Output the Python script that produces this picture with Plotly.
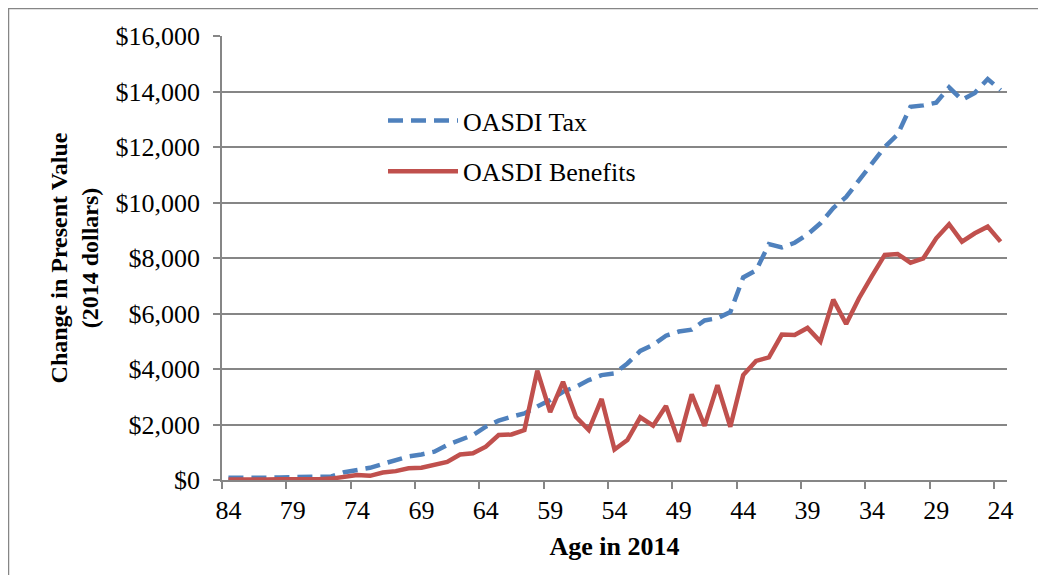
import plotly.graph_objects as go

# Age in 2014, oldest to youngest (x axis runs 84 -> 24)
ages = list(range(84, 23, -1))

# Change in present value (2014 dollars)
oasdi_tax = [
    80, 70, 70, 80, 90, 90, 100, 110, 130, 280,        # 84-75
    350, 440, 580, 730, 850, 920, 1020, 1260, 1440, 1620,  # 74-65
    1920, 2140, 2280, 2400, 2650, 2880, 3180, 3360, 3600, 3780,  # 64-55
    3840, 4200, 4650, 4870, 5200, 5350, 5420, 5750, 5830, 6050,  # 54-45
    7300, 7550, 8500, 8380, 8550, 8850, 9250, 9800, 10200, 10800,  # 44-35
    11400, 12000, 12450, 13450, 13500, 13600, 14150, 13700, 13950, 14450,  # 34-25
    14050,  # 24
]
oasdi_benefits = [
    20, 10, 15, 20, 25, 20, 20, 30, 50, 100,          # 84-75
    180, 150, 270, 320, 420, 440, 560, 650, 920, 960,  # 74-65
    1200, 1620, 1640, 1800, 3940, 2450, 3540, 2280, 1800, 2920,  # 64-55
    1100, 1440, 2260, 1960, 2670, 1380, 3090, 1950, 3420, 1920,  # 54-45
    3780, 4290, 4420, 5240, 5225, 5480, 4990, 6500, 5620, 6550,  # 44-35
    7350, 8110, 8145, 7830, 7990, 8710, 9215, 8590, 8890, 9130,  # 34-25
    8590,  # 24
]

tick_ages = list(range(84, 23, -5))
y_ticks = list(range(0, 16001, 2000))

FONT = "Liberation Serif, Times New Roman, serif"
GRID = "#868686"

fig = go.Figure()

fig.add_trace(go.Scatter(
    x=ages, y=oasdi_tax,
    mode="lines",
    name="OASDI Tax",
    legendgroup="tax",
    line=dict(color="#4F81BD", width=4.5, dash="15px,8px"),
))

fig.add_trace(go.Scatter(
    x=ages, y=oasdi_benefits,
    mode="lines",
    name="OASDI Benefits",
    legendgroup="ben",
    line=dict(color="#C0504D", width=4.5),
))

# the page puts the figure 8px in from the top-left corner
W, H = 1038, 567
L, R, T, B = 214, 39, 28, 95
pw, ph = W - L - R, H - T - B


def px_x(p):
    # page pixel -> paper x
    return (p - 8 - L) / pw


def px_y(p):
    # page pixel -> paper y
    return (H - B - (p - 8)) / ph


fig.update_layout(
    width=W, height=H,
    margin=dict(l=L, r=R, t=T, b=B),
    paper_bgcolor="white",
    plot_bgcolor="white",
    font=dict(family=FONT, size=26, color="black"),
    showlegend=True,
    legend=dict(
        x=px_x(383), y=px_y(97),
        xanchor="left", yanchor="top",
        bgcolor="rgba(0,0,0,0)",
        font=dict(family=FONT, size=26, color="black"),
        itemwidth=70,
        traceorder="grouped",
        tracegroupgap=14,
    ),
    xaxis=dict(
        range=[84.5, 23.5],
        tickmode="array",
        tickvals=tick_ages,
        ticktext=[str(a) for a in tick_ages],
        ticks="",
        ticklabelstandoff=6,
        showgrid=False,
        zeroline=False,
        showline=True, linecolor=GRID, linewidth=1.5,
        tickfont=dict(family=FONT, size=26),
        minor=dict(
            tickmode="array",
            tickvals=[a + 0.5 for a in tick_ages],
            ticks="outside", ticklen=7, tickcolor=GRID, tickwidth=1.5,
            showgrid=False,
        ),
        title=dict(text="<b>Age in 2014</b>", font=dict(family=FONT, size=26), standoff=13),
    ),
    yaxis=dict(
        range=[0, 16000],
        tickmode="array",
        tickvals=y_ticks,
        ticktext=["${:,}".format(v) for v in y_ticks],
        ticks="outside", ticklen=7, tickcolor=GRID, tickwidth=1.5,
        ticklabelstandoff=8,
        showgrid=True, gridcolor=GRID, gridwidth=1.5,
        zeroline=False,
        showline=True, linecolor=GRID, linewidth=1.5,
        tickfont=dict(family=FONT, size=26),
        title=dict(text="<b>Change in Present Value<br>(2014 dollars)</b>",
                   font=dict(family=FONT, size=24), standoff=10),
    ),
)

# outer chart border (runs off the right and bottom of the picture)
fig.add_shape(
    type="rect", xref="paper", yref="paper",
    x0=px_x(8.5), x1=px_x(1070), y0=px_y(600), y1=px_y(8.5),
    line=dict(color=GRID, width=1.5), fillcolor="rgba(0,0,0,0)", layer="below",
)

fig.write_html("out.html")
